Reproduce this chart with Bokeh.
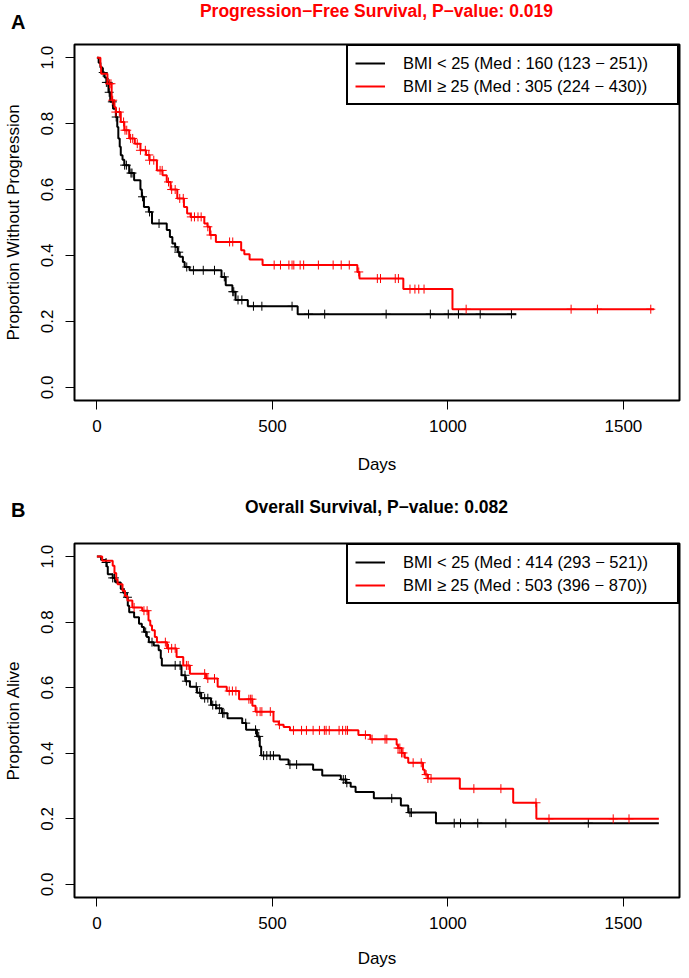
import numpy as np
from bokeh.plotting import figure
from bokeh.models import (Range1d, FixedTicker, PrintfTickFormatter, Legend,
                          LegendItem, ColumnDataSource, Div)
from bokeh.layouts import column
from bokeh.embed import file_html
from bokeh.resources import INLINE

FONT = "Liberation Sans"

# ---------------- Data ----------------
# Panel A: Progression-free survival
pfs_low_times = [5, 10, 16, 22, 27, 33, 38, 46, 54, 58, 61, 65, 68, 73, 78, 92, 106, 124, 128,
                 134, 148, 157, 199, 208, 215, 223, 230, 236, 245, 250, 264, 355, 367, 386, 395,
                 430, 572]
pfs_low_surv = [0.985, 0.97, 0.955, 0.94, 0.925, 0.895, 0.866, 0.845, 0.82, 0.79, 0.755, 0.73,
                0.704, 0.69, 0.674, 0.65, 0.628, 0.60, 0.578, 0.547, 0.532, 0.497, 0.477, 0.456,
                0.436, 0.426, 0.41, 0.396, 0.38, 0.365, 0.355, 0.335, 0.31, 0.29, 0.265, 0.246,
                0.222]
pfs_low_end = 1195
pfs_low_censor = [18, 27, 32, 35, 44, 55, 79, 84, 97, 100, 130, 150, 177, 223, 233, 256, 275, 303,
                  335, 363, 387, 390, 402, 413, 446, 470, 556, 603, 649, 824, 950, 1001, 1030,
                  1092, 1181]

pfs_high_times = [10, 12, 30, 42, 50, 54, 68, 78, 92, 108, 124, 140, 150, 171, 187, 199, 210, 229,
                  248, 257, 267, 306, 315, 322, 339, 411, 420, 435, 472, 742, 748, 873, 1013]
pfs_high_surv = [0.975, 0.951, 0.921, 0.871, 0.85, 0.835, 0.805, 0.78, 0.755, 0.739, 0.719, 0.705,
                 0.689, 0.658, 0.643, 0.623, 0.60, 0.573, 0.547, 0.527, 0.517, 0.497, 0.487, 0.462,
                 0.441, 0.416, 0.404, 0.388, 0.371, 0.350, 0.330, 0.298, 0.237]
pfs_high_end = 1587
pfs_high_censor = [36, 40, 45, 54, 64, 76, 80, 85, 96, 102, 115, 124, 138, 148, 150, 162, 180, 186,
                   204, 213, 223, 236, 246, 269, 278, 288, 297, 316, 325, 378, 387, 505, 523, 547,
                   556, 561, 579, 589, 631, 673, 696, 719, 746, 799, 808, 850, 859, 892, 906, 917,
                   932, 1052, 1351, 1426, 1578]

# Panel B: Overall survival
os_low_times = [12, 26, 28, 31, 45, 54, 68, 75, 82, 88, 92, 106, 120, 128, 134, 142, 148, 162, 176,
                182, 185, 241, 252, 265, 285, 297, 325, 340, 356, 372, 414, 425, 456, 464, 468,
                521, 546, 616, 642, 695, 709, 723, 737, 789, 866, 887, 966]
os_low_surv = [0.99, 0.982, 0.97, 0.946, 0.935, 0.921, 0.901, 0.89, 0.876, 0.85, 0.83, 0.815, 0.795,
               0.785, 0.77, 0.755, 0.739, 0.729, 0.714, 0.69, 0.668, 0.638, 0.62, 0.603, 0.585,
               0.568, 0.547, 0.537, 0.522, 0.507, 0.492, 0.4715, 0.4515, 0.421, 0.393, 0.381,
               0.3655, 0.35, 0.332, 0.32, 0.31, 0.298, 0.282, 0.2625, 0.241, 0.219, 0.1867]
os_low_end = 1601
os_low_censor = [26, 45, 50, 78, 87, 139, 157, 223, 237, 251, 255, 283, 293, 307, 316, 330, 339,
                 349, 358, 362, 424, 452, 461, 475, 484, 494, 503, 550, 569, 702, 708, 712, 840,
                 892, 896, 1018, 1036, 1085, 1165, 1400]

os_high_times = [15, 45, 50, 55, 59, 73, 80, 87, 101, 129, 147, 152, 157, 165, 171, 200, 227, 246,
                 265, 311, 344, 370, 405, 443, 452, 503, 518, 532, 550, 745, 779, 854, 858, 868,
                 877, 887, 929, 934, 943, 1034, 1186, 1252]
os_high_surv = [0.987, 0.972, 0.95, 0.93, 0.916, 0.896, 0.88, 0.866, 0.845, 0.835, 0.805, 0.79,
                0.775, 0.755, 0.739, 0.72, 0.694, 0.668, 0.643, 0.628, 0.603, 0.59, 0.565, 0.545,
                0.527, 0.497, 0.487, 0.48, 0.47, 0.456, 0.443, 0.426, 0.416, 0.401, 0.386, 0.371,
                0.350, 0.335, 0.323, 0.292, 0.249, 0.200]
os_high_end = 1601
os_high_censor = [106, 134, 143, 195, 204, 213, 223, 255, 260, 307, 316, 335, 377, 386, 396, 433,
                  438, 442, 456, 465, 470, 494, 520, 560, 583, 597, 616, 634, 648, 653, 662, 690,
                  700, 709, 714, 765, 784, 821, 826, 858, 863, 868, 872, 901, 924, 938, 943, 952,
                  1074, 1151, 1251, 1288, 1471, 1516]

# Texts
pfs_title = "Progression\u2212Free Survival, P\u2212value: 0.019"
os_title = "Overall Survival, P\u2212value: 0.082"
pfs_legend = ["BMI < 25 (Med : 160 (123 \u2212 251))", "BMI \u2265 25 (Med : 305 (224 \u2212 430))"]
os_legend = ["BMI < 25 (Med : 414 (293 \u2212 521))", "BMI \u2265 25 (Med : 503 (396 \u2212 870))"]
pfs_ylabel = "Proportion Without Progression"
os_ylabel = "Proportion Alive"
xlabel = "Days"
x_ticks = [0, 500, 1000, 1500]
y_ticks = [0.0, 0.2, 0.4, 0.6, 0.8, 1.0]
x_limits = (0, 1596)
y_limits = (0.0, 1.0)
colors = ["black", "red"]

FIG_W = 681
BORDER_L = 74
BORDER_R = 2


def km_source(times, surv, end):
    xs = [0] + list(times) + [end]
    ys = [1.0] + list(surv) + [surv[-1]]
    return ColumnDataSource(dict(x=xs, y=ys))


def censor_source(times, surv, censor):
    t = np.asarray(times, dtype=float)
    s = np.asarray(surv, dtype=float)
    c = np.asarray(censor, dtype=float)
    idx = np.searchsorted(t, c, side="right")
    cy = np.where(idx > 0, s[np.maximum(idx - 1, 0)], 1.0)
    return ColumnDataSource(dict(x=c, y=cy))


def header(letter, title, title_color, height, letter_top, title_top):
    frame_w = FIG_W - BORDER_L - BORDER_R
    html = (
        f'<div style="position:relative;width:{FIG_W}px;height:{height}px;overflow:visible;'
        f'font-family:\'{FONT}\',sans-serif;">'
        f'<span style="position:absolute;left:11px;top:{letter_top}px;font-size:20px;'
        f'line-height:22px;font-weight:bold;color:black;white-space:nowrap;">{letter}</span>'
        f'<span style="position:absolute;left:{BORDER_L}px;width:{frame_w}px;top:{title_top}px;'
        f'text-align:center;font-size:17.5px;line-height:20px;font-weight:bold;'
        f'color:{title_color};white-space:nowrap;">{title}</span>'
        f'</div>'
    )
    return Div(text=html, width=FIG_W, height=height, margin=0)


def km_panel(ylabel, groups, legend_labels, height, border_bottom, xlab_standoff):
    ext_x = 0.04 * (x_limits[1] - x_limits[0])
    ext_y = 0.04 * (y_limits[1] - y_limits[0])
    p = figure(width=FIG_W, height=height, output_backend="svg", toolbar_location=None,
               title=None,
               x_range=Range1d(x_limits[0] - ext_x, x_limits[1] + ext_x),
               y_range=Range1d(y_limits[0] - ext_y, y_limits[1] + ext_y),
               min_border_left=BORDER_L, min_border_right=BORDER_R,
               min_border_top=4, min_border_bottom=border_bottom, margin=0)
    p.outline_line_color = "black"
    p.outline_line_width = 2
    p.xgrid.visible = False
    p.ygrid.visible = False
    p.background_fill_color = "white"
    p.border_fill_color = "white"

    for ax in (p.xaxis[0], p.yaxis[0]):
        ax.axis_line_color = None
        ax.major_tick_line_color = "black"
        ax.major_tick_line_width = 1
        ax.major_tick_in = 0
        ax.major_tick_out = 9
        ax.minor_tick_line_color = None
        ax.major_label_text_font = FONT
        ax.major_label_text_font_size = "17px"
        ax.major_label_text_color = "black"
        ax.axis_label_text_font = FONT
        ax.axis_label_text_font_size = "17px"
        ax.axis_label_text_font_style = "normal"
        ax.axis_label_text_color = "black"

    p.xaxis.ticker = FixedTicker(ticks=x_ticks)
    p.yaxis.ticker = FixedTicker(ticks=y_ticks)
    p.yaxis.formatter = PrintfTickFormatter(format="%.1f")
    p.yaxis.major_label_orientation = "vertical"
    p.xaxis.axis_label = xlabel
    p.yaxis.axis_label = ylabel
    p.xaxis.major_label_standoff = 10
    p.xaxis.axis_label_standoff = xlab_standoff
    p.yaxis.major_label_standoff = 12
    p.yaxis.axis_label_standoff = 16

    items = []
    for (times, surv, end, cens), col, lab in zip(groups, colors, legend_labels):
        r = p.step("x", "y", source=km_source(times, surv, end), mode="after",
                   line_color=col, line_width=2)
        p.scatter("x", "y", source=censor_source(times, surv, cens), marker="cross",
                  size=9, line_color=col, line_width=1)
        items.append(LegendItem(label=lab, renderers=[r]))

    legend = Legend(items=items, location="top_right", margin=0, padding=7, spacing=3,
                    border_line_color="black", border_line_width=2, border_line_alpha=1.0,
                    background_fill_color="white", background_fill_alpha=1.0,
                    label_text_font=FONT, label_text_font_size="16.5px",
                    label_text_color="black", label_standoff=18, label_width=267,
                    glyph_width=30, glyph_height=20, label_height=20)
    p.add_layout(legend, "center")
    return p


h1 = header("A", pfs_title, "red", height=40, letter_top=11, title_top=1)
p1 = km_panel(pfs_ylabel,
              [(pfs_low_times, pfs_low_surv, pfs_low_end, pfs_low_censor),
               (pfs_high_times, pfs_high_surv, pfs_high_end, pfs_high_censor)],
              pfs_legend, height=453, border_bottom=93, xlab_standoff=20)
h2 = header("B", os_title, "black", height=46, letter_top=6, title_top=4)
p2 = km_panel(os_ylabel,
              [(os_low_times, os_low_surv, os_low_end, os_low_censor),
               (os_high_times, os_high_surv, os_high_end, os_high_censor)],
              os_legend, height=431, border_bottom=71, xlab_standoff=17)

layout = column(h1, p1, h2, p2, spacing=0)
open("out.html", "w").write(file_html(layout, INLINE))
